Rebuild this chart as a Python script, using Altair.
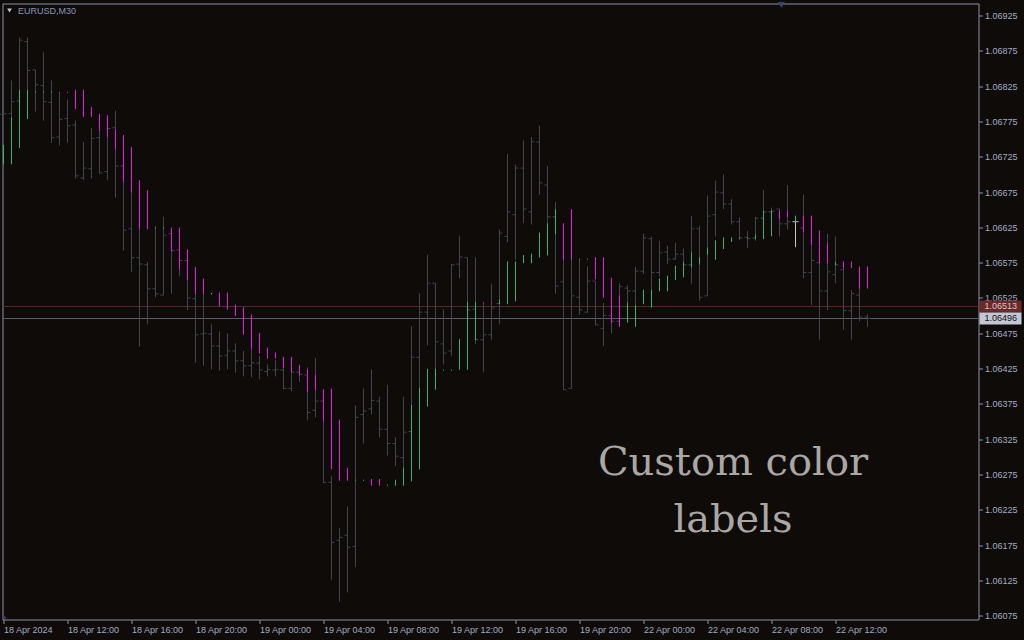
import altair as alt
import pandas as pd

# ---- chart content -------------------------------------------------------
symbol = "EURUSD,M30"
caption = ["Custom color", "labels"]

time_labels = [
    "18 Apr 2024", "18 Apr 12:00", "18 Apr 16:00", "18 Apr 20:00",
    "19 Apr 00:00", "19 Apr 04:00", "19 Apr 08:00", "19 Apr 12:00",
    "19 Apr 16:00", "19 Apr 20:00", "22 Apr 00:00", "22 Apr 04:00",
    "22 Apr 08:00", "22 Apr 12:00",
]
price_ticks = [
    1.06075, 1.06125, 1.06175, 1.06225, 1.06275, 1.06325, 1.06375, 1.06425,
    1.06475, 1.06525, 1.06575, 1.06625, 1.06675, 1.06725, 1.06775, 1.06825,
    1.06875, 1.06925,
]
ask_price = 1.06513
bid_price = 1.06496

# 30-minute bars, 18 Apr 08:00 .. 22 Apr 14:00
bar_open = [
    1.06785, 1.06786, 1.06804, 1.06888, 1.06848, 1.06826, 1.06802, 1.06753, 1.06779, 1.06770,
    1.06695, 1.06708, 1.06752, 1.06704, 1.06766, 1.06712, 1.06623, 1.06582, 1.06572, 1.06538,
    1.06529, 1.06616, 1.06593, 1.06578, 1.06524, 1.06474, 1.06474, 1.06457, 1.06444, 1.06450,
    1.06436, 1.06429, 1.06433, 1.06421, 1.06423, 1.06423, 1.06397, 1.06420, 1.06416, 1.06366,
    1.06379, 1.06264, 1.06182, 1.06189, 1.06173, 1.06360, 1.06368, 1.06379, 1.06339, 1.06319,
    1.06299, 1.06336, 1.06441, 1.06505, 1.06546, 1.06460, 1.06450, 1.06573, 1.06582, 1.06509,
    1.06466, 1.06473, 1.06517, 1.06612, 1.06643, 1.06709, 1.06647, 1.06746, 1.06685, 1.06640,
    1.06548, 1.06397, 1.06526, 1.06505, 1.06549, 1.06482, 1.06500, 1.06492, 1.06539, 1.06535,
    1.06563, 1.06609, 1.06561, 1.06590, 1.06580, 1.06587, 1.06572, 1.06623, 1.06528, 1.06643,
    1.06674, 1.06658, 1.06633, 1.06611, 1.06610, 1.06638, 1.06647, 1.06651, 1.06630, 1.06633,
    1.06624, 1.06561, 1.06575, 1.06535, 1.06558, 1.06565, 1.06507, 1.06529, 1.06498,
]
bar_high = [
    1.06787, 1.06833, 1.06894, 1.06894, 1.06848, 1.06873, 1.06833, 1.06817, 1.06806, 1.06776,
    1.06746, 1.06766, 1.06769, 1.06776, 1.06790, 1.06751, 1.06734, 1.06684, 1.06576, 1.06627,
    1.06640, 1.06623, 1.06617, 1.06589, 1.06563, 1.06532, 1.06488, 1.06478, 1.06475, 1.06461,
    1.06450, 1.06457, 1.06443, 1.06431, 1.06437, 1.06441, 1.06436, 1.06431, 1.06427, 1.06440,
    1.06390, 1.06273, 1.06199, 1.06230, 1.06373, 1.06397, 1.06424, 1.06385, 1.06402, 1.06328,
    1.06385, 1.06485, 1.06532, 1.06586, 1.06546, 1.06509, 1.06573, 1.06613, 1.06582, 1.06583,
    1.06519, 1.06545, 1.06622, 1.06729, 1.06714, 1.06748, 1.06753, 1.06769, 1.06712, 1.06661,
    1.06592, 1.06585, 1.06579, 1.06570, 1.06549, 1.06518, 1.06535, 1.06546, 1.06543, 1.06569,
    1.06616, 1.06612, 1.06606, 1.06599, 1.06603, 1.06595, 1.06641, 1.06627, 1.06670, 1.06691,
    1.06700, 1.06665, 1.06639, 1.06620, 1.06640, 1.06678, 1.06653, 1.06651, 1.06685, 1.06641,
    1.06671, 1.06599, 1.06620, 1.06616, 1.06612, 1.06569, 1.06536, 1.06569, 1.06502,
]
bar_low = [
    1.06715, 1.06715, 1.06738, 1.06779, 1.06789, 1.06776, 1.06745, 1.06741, 1.06745, 1.06694,
    1.06692, 1.06694, 1.06702, 1.06692, 1.06667, 1.06592, 1.06562, 1.06456, 1.06488, 1.06526,
    1.06529, 1.06531, 1.06556, 1.06508, 1.06433, 1.06429, 1.06424, 1.06422, 1.06424, 1.06419,
    1.06414, 1.06413, 1.06410, 1.06414, 1.06414, 1.06396, 1.06393, 1.06406, 1.06352, 1.06356,
    1.06263, 1.06126, 1.06095, 1.06108, 1.06144, 1.06319, 1.06360, 1.06328, 1.06302, 1.06287,
    1.06284, 1.06322, 1.06386, 1.06458, 1.06424, 1.06431, 1.06443, 1.06553, 1.06500, 1.06460,
    1.06420, 1.06466, 1.06488, 1.06604, 1.06579, 1.06631, 1.06629, 1.06671, 1.06630, 1.06531,
    1.06395, 1.06397, 1.06501, 1.06504, 1.06487, 1.06457, 1.06475, 1.06485, 1.06507, 1.06504,
    1.06559, 1.06536, 1.06555, 1.06573, 1.06579, 1.06570, 1.06545, 1.06521, 1.06528, 1.06612,
    1.06651, 1.06629, 1.06607, 1.06596, 1.06606, 1.06609, 1.06613, 1.06612, 1.06622, 1.06597,
    1.06553, 1.06515, 1.06466, 1.06508, 1.06546, 1.06480, 1.06466, 1.06492, 1.06484,
]
bar_close = [
    1.06786, 1.06803, 1.06890, 1.06847, 1.06827, 1.06803, 1.06752, 1.06778, 1.06769, 1.06698,
    1.06709, 1.06751, 1.06702, 1.06765, 1.06712, 1.06621, 1.06582, 1.06573, 1.06538, 1.06531,
    1.06614, 1.06592, 1.06578, 1.06525, 1.06473, 1.06475, 1.06457, 1.06443, 1.06450, 1.06436,
    1.06429, 1.06433, 1.06423, 1.06424, 1.06424, 1.06397, 1.06420, 1.06417, 1.06363, 1.06379,
    1.06264, 1.06179, 1.06186, 1.06172, 1.06356, 1.06365, 1.06380, 1.06339, 1.06319, 1.06301,
    1.06335, 1.06441, 1.06505, 1.06546, 1.06463, 1.06447, 1.06572, 1.06583, 1.06508, 1.06466,
    1.06473, 1.06511, 1.06617, 1.06647, 1.06709, 1.06651, 1.06746, 1.06688, 1.06640, 1.06542,
    1.06395, 1.06528, 1.06508, 1.06549, 1.06487, 1.06500, 1.06492, 1.06541, 1.06535, 1.06563,
    1.06610, 1.06561, 1.06589, 1.06580, 1.06587, 1.06572, 1.06623, 1.06526, 1.06641, 1.06675,
    1.06658, 1.06633, 1.06610, 1.06609, 1.06638, 1.06647, 1.06648, 1.06630, 1.06633, 1.06633,
    1.06561, 1.06578, 1.06535, 1.06562, 1.06572, 1.06507, 1.06531, 1.06498, 1.06496,
]

# colour-label indicator: one segment per bar (g = up, m = down, w = flat)
label_low = [
    1.06715, 1.06715, 1.06738, 1.06779, 1.06817, 1.06817, 1.06817, 1.06816, 1.06816, 1.06793,
    1.06782, 1.06782, 1.06762, 1.06753, 1.06736, 1.06690, 1.06675, 1.06623, 1.06623, 1.06624,
    1.06624, 1.06592, 1.06566, 1.06551, 1.06531, 1.06531, 1.06531, 1.06514, 1.06509, 1.06500,
    1.06474, 1.06453, 1.06447, 1.06440, 1.06440, 1.06427, 1.06421, 1.06416, 1.06393, 1.06395,
    1.06351, 1.06283, 1.06267, 1.06267, 1.06267, 1.06267, 1.06260, 1.06260, 1.06260, 1.06260,
    1.06260, 1.06266, 1.06283, 1.06372, 1.06396, 1.06423, 1.06423, 1.06424, 1.06424, 1.06466,
    1.06518, 1.06518, 1.06517, 1.06517, 1.06521, 1.06575, 1.06575, 1.06583, 1.06586, 1.06616,
    1.06580, 1.06580, 1.06580, 1.06580, 1.06552, 1.06526, 1.06490, 1.06485, 1.06491, 1.06485,
    1.06517, 1.06512, 1.06535, 1.06535, 1.06551, 1.06555, 1.06569, 1.06573, 1.06587, 1.06580,
    1.06595, 1.06605, 1.06610, 1.06610, 1.06609, 1.06609, 1.06613, 1.06637, 1.06640, 1.06633,
    1.06619, 1.06600, 1.06575, 1.06575, 1.06572, 1.06568, 1.06568, 1.06539, 1.06539,
]
label_high = [
    1.06741, 1.06780, 1.06819, 1.06819, 1.06817, 1.06817, 1.06817, 1.06816, 1.06816, 1.06819,
    1.06819, 1.06795, 1.06785, 1.06783, 1.06763, 1.06755, 1.06738, 1.06691, 1.06677, 1.06624,
    1.06624, 1.06624, 1.06624, 1.06593, 1.06568, 1.06552, 1.06531, 1.06532, 1.06532, 1.06515,
    1.06511, 1.06501, 1.06475, 1.06454, 1.06447, 1.06441, 1.06441, 1.06429, 1.06423, 1.06416,
    1.06395, 1.06396, 1.06352, 1.06284, 1.06267, 1.06267, 1.06268, 1.06268, 1.06260, 1.06267,
    1.06284, 1.06373, 1.06397, 1.06424, 1.06424, 1.06423, 1.06423, 1.06466, 1.06519, 1.06519,
    1.06518, 1.06518, 1.06522, 1.06576, 1.06576, 1.06585, 1.06587, 1.06617, 1.06630, 1.06650,
    1.06630, 1.06650, 1.06580, 1.06580, 1.06582, 1.06582, 1.06553, 1.06528, 1.06518, 1.06514,
    1.06536, 1.06536, 1.06552, 1.06556, 1.06570, 1.06575, 1.06589, 1.06582, 1.06596, 1.06606,
    1.06610, 1.06610, 1.06610, 1.06610, 1.06614, 1.06648, 1.06648, 1.06648, 1.06648, 1.06641,
    1.06641, 1.06641, 1.06620, 1.06602, 1.06575, 1.06576, 1.06576, 1.06569, 1.06569,
]
label_kind = list(
    "gggggggmmm" "mmmmmmmmmg" "gmmmmmwmmm" "mmmmmmmmmm" "mmmmggmmgg"
    "gggggggggg" "mmgggggggg" "mmggmmmmgg" "gggggggggg" "gggggggmmg" "mmmmgmmmm"
)

# ---- styling -------------------------------------------------------------
BG = "#0e0b09"
FRAME = "#8d92a8"
AXIS_TEXT = "#a3abc4"
BAR = "#42444f"
DOJI = "#c8c8c8"
KIND_COLORS = {"g": "#3cb371", "m": "#e817e8", "w": "#c8c8c8"}
FONT = "Liberation Sans"

W, H = 976, 616

bars = pd.DataFrame({
    "k": range(len(bar_open)),
    "open": bar_open, "high": bar_high, "low": bar_low, "close": bar_close,
    "lab_lo": label_low, "lab_hi": label_high, "kind": label_kind,
})
bars["bar_col"] = [DOJI if o == c else BAR for o, c in zip(bars["open"], bars["close"])]
bars["lab_col"] = bars["kind"].map(KIND_COLORS)

x_scale = alt.Scale(domain=[-0.125, 121.875], nice=False, zero=False)
y_scale = alt.Scale(domain=[1.0606977, 1.0694199], nice=False, zero=False)

label_array = "[" + ",".join("'%s'" % t for t in time_labels) + "]"
x_axis = alt.Axis(
    orient="bottom", values=list(range(0, 8 * len(time_labels), 8)),
    labelExpr=label_array + "[round(datum.value / 8)]",
    domain=False, grid=False, tickSize=4, tickColor=FRAME,
    labelAlign="left", labelBaseline="top", labelPadding=2,
    labelOverlap=False, labelFlush=False,
    labelFont=FONT, labelFontSize=9, labelColor=AXIS_TEXT,
)
y_axis = alt.Axis(
    orient="right", values=price_ticks, format=".5f",
    domain=False, grid=False, tickSize=4, tickColor=FRAME,
    labelPadding=2, labelOverlap=False, labelFlush=False,
    labelFont=FONT, labelFontSize=9, labelColor=AXIS_TEXT,
)


def xq(field):
    return alt.X(field, type="quantitative", scale=x_scale, axis=x_axis, title=None)


def yq(field):
    return alt.Y(field, type="quantitative", scale=y_scale, axis=y_axis, title=None)


base = alt.Chart(bars)

# high-low line of each bar
hl = base.mark_rule(strokeWidth=1).encode(
    x=xq("k"), y=yq("low"), y2="high", color=alt.Color("bar_col:N", scale=None)
)
# open tick on the left, close tick on the right
open_tick = base.transform_calculate(xl="datum.k - 0.375").mark_rule(strokeWidth=1).encode(
    x=xq("xl"), x2="k", y=yq("open"), color=alt.Color("bar_col:N", scale=None)
)
close_tick = base.transform_calculate(xr="datum.k + 0.375").mark_rule(strokeWidth=1).encode(
    x=xq("k"), x2="xr", y=yq("close"), color=alt.Color("bar_col:N", scale=None)
)
# colour-label segments drawn over the bars
labels = base.mark_rule(strokeWidth=1, strokeCap="square").encode(
    x=xq("k"), y=yq("lab_lo"), y2="lab_hi", color=alt.Color("lab_col:N", scale=None)
)

quotes = pd.DataFrame({
    "p": [ask_price, bid_price],
    "line": ["#552a2a", "#5b5d70"],
    "box": ["#6a2a2a", "#c3c6d3"],
    "ink": ["#d9c3c3", "#101010"],
})
qbase = alt.Chart(quotes)
quote_lines = qbase.mark_rule(strokeWidth=1).encode(
    y=yq("p"), x=alt.value(0), x2=alt.value(W), color=alt.Color("line:N", scale=None)
)
quote_boxes = qbase.transform_calculate(
    top="datum.p + 0.000085", bot="datum.p - 0.000085"
).mark_rect().encode(
    y=yq("top"), y2="bot", x=alt.value(W + 1), x2=alt.value(W + 43),
    color=alt.Color("box:N", scale=None),
)
quote_text = qbase.mark_text(
    align="left", baseline="middle", font=FONT, fontSize=9
).encode(
    y=yq("p"), x=alt.value(W + 6), text=alt.Text("p:Q", format=".5f"),
    color=alt.Color("ink:N", scale=None),
)

one = alt.Chart(pd.DataFrame({"i": [0]}))
title_mark = one.mark_text(
    text=symbol, align="left", baseline="alphabetic", font=FONT, fontSize=9,
    color="#8a95b8",
).encode(x=alt.value(15.5), y=alt.value(10.5))
title_arrow = one.mark_point(
    shape="triangle-down", filled=True, size=22, color="#c8c8c8", opacity=1
).encode(x=alt.value(7), y=alt.value(7))
shift_marker = one.mark_point(
    shape="triangle-down", filled=True, size=45, color="#3e4075", opacity=1
).encode(x=alt.value(779), y=alt.value(1.5))
corner_marker = one.mark_point(
    shape="M-1,-1L1,1L-1,1Z", filled=True, size=18, color="#3e4075", opacity=1
).encode(x=alt.value(2.5), y=alt.value(H - 3))

caption_mark = one.mark_text(
    text=caption, align="center", baseline="alphabetic", font="DejaVu Serif",
    fontSize=40, lineHeight=57, color="#aaa7a4",
).encode(x=alt.value(730.5), y=alt.value(471.5))

chart = alt.layer(
    quote_lines, hl, open_tick, close_tick, labels,
    quote_boxes, quote_text, title_arrow, title_mark, shift_marker, corner_marker,
    caption_mark,
).properties(
    width=W, height=H, autosize="none", background=BG,
    padding={"left": 2.5, "top": 3.5, "right": 45.5, "bottom": 20.5},
).configure_view(stroke=FRAME, strokeWidth=1)

chart.save("out.html", embed_options={"renderer": "svg", "actions": False})
